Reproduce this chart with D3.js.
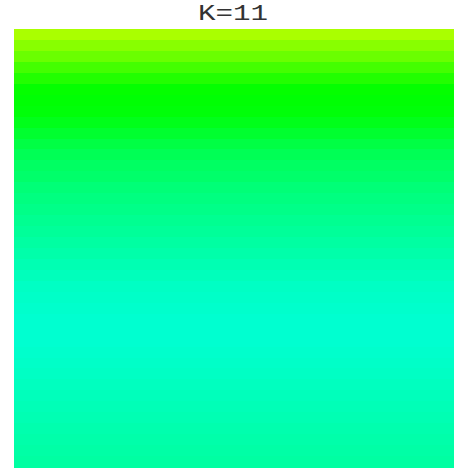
<!DOCTYPE html>
<html><head><meta charset="utf-8">
<script src="https://cdn.jsdelivr.net/npm/d3@7"></script>
<style>html,body{margin:0;padding:0;background:#fff;}</style>
</head><body>
<svg id="chart" width="470" height="470"></svg>
<script>
const title = "K=11";
// one colour value (hue, degrees) per image row, top to bottom
const rowValues = [80, 88, 95, 104, 112, 119, 121, 122, 126, 131,
                   136, 140, 143, 145, 148, 150, 152, 154, 156, 158,
                   160, 162, 164, 166, 167, 168, 169, 169, 169, 168,
                   167, 166, 165, 164, 163, 162, 161, 160, 159, 158];
const columns = ["all"];

const svg = d3.select("#chart");
const m = {left: 14, top: 29, right: 16, bottom: 3};
const W = 470 - m.left - m.right, H = 470 - m.top - m.bottom;
const g = svg.append("g").attr("transform", `translate(${m.left},${m.top})`);

const rows = d3.range(rowValues.length);
const y = d3.scaleBand().domain(rows).range([0, H]).padding(0);
const x = d3.scaleBand().domain(columns).range([0, W]).padding(0);
const color = v => d3.hsl(v, 1, 0.5).formatHex();

g.selectAll("rect").data(rows).join("rect")
  .attr("x", x("all"))
  .attr("y", d => y(d))
  .attr("width", x.bandwidth())
  .attr("height", y.bandwidth() + 0.5)
  .attr("fill", d => color(rowValues[d]))
  .attr("shape-rendering", "crispEdges");

svg.append("text")
  .attr("transform", "translate(233,19.5) scale(1.3,1)")
  .attr("text-anchor", "middle")
  .attr("font-family", "'Liberation Mono', 'DejaVu Sans Mono', monospace")
  .attr("font-size", 22.5)
  .attr("fill", "#333")
  .text(title);
</script>
</body></html>
